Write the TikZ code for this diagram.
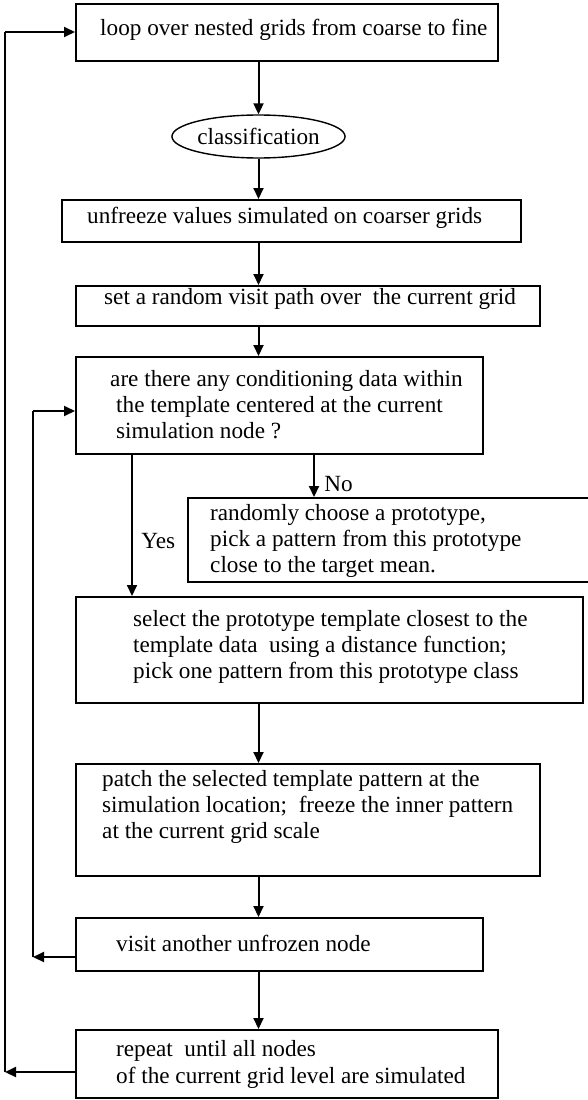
\documentclass[tikz,border=0pt]{standalone}
\usepackage{fontspec}
\setmainfont{Liberation Serif}
\usetikzlibrary{arrows.meta,positioning,shapes.geometric}

\tikzset{
  stepbox/.style={draw, line width=2pt, rectangle, inner sep=0pt},
  roundbox/.style={draw, line width=1.4pt, ellipse, inner sep=0pt},
  txt/.style={align=left, inner sep=0pt, anchor=west, font=\fontsize{23.2}{26.3}\selectfont},
  flow/.style={-{Triangle[length=11pt,width=10pt]}, line width=2pt},
  back/.style={line width=1.1pt},
}

\begin{document}
\begin{tikzpicture}[x=1pt, y=-1pt]
        \useasboundingbox (0,0) rectangle (588,1100);
        % boxes
        \node[stepbox, minimum width=422, minimum height=57] (loop) at (287,32.5) {};
        \node[roundbox, minimum width=169, minimum height=43, font=\fontsize{23.2}{26.3}\selectfont] (classif) at (258.5,136.5) {classification};
        \node[stepbox, minimum width=459, minimum height=42] (unfreeze) at (291.5,221) {};
        \node[stepbox, minimum width=464, minimum height=40] (path) at (308,306) {};
        \node[stepbox, minimum width=407, minimum height=97] (cond) at (279.5,405.5) {};
        \node[stepbox, minimum width=412, minimum height=84] (rand) at (394,540) {};
        \node[stepbox, minimum width=507, minimum height=106] (select) at (329.5,650) {};
        \node[stepbox, minimum width=464, minimum height=112] (patch) at (308,820) {};
        \node[stepbox, minimum width=407, minimum height=53] (visit) at (279.5,944.5) {};
        \node[stepbox, minimum width=422, minimum height=68] (repeat) at (287,1064) {};
        % texts
        \node[txt] (loop-t) at (100,30) {loop over nested grids from coarse to fine};
        \node[txt] (unfreeze-t) at (87,218) {unfreeze values simulated on coarser grids};
        \node[txt] (path-t) at (104,299) {set a random visit path over \ the current grid};
        \node[txt] (cond-t) at (110,404.5) {are there any conditioning data within\\
            \hspace*{6pt}the template centered at the current\\
            \hspace*{6pt}simulation node ?};
        \node[txt] (rand-t) at (210,541) {randomly choose a prototype,\\
            pick a pattern from this prototype\\
            close to the target mean.};
        \node[txt] (select-t) at (133,647) {select the prototype template closest to the\\
            template data \ using a distance function;\\
            pick one pattern from this prototype class};
        \node[txt] (patch-t) at (102,807) {patch the selected template pattern at the\\
            simulation location; \ freeze the inner pattern\\
            at the current grid scale};
        \node[txt] (visit-t) at (116,943) {visit another unfrozen node};
        \node[txt] (repeat-t) at (116,1064.5) {repeat \ until all nodes\\
            of the current grid level are simulated};
        % main flow
        \draw[flow] (loop.south -| classif.north) -- (classif.north);
        \draw[flow] (classif.south) -- (classif.south |- unfreeze.north);
        \draw[flow] (unfreeze.south -| classif.south) -- (classif.south |- path.north);
        \draw[flow] (path.south -| classif.south) -- (classif.south |- cond.north);
        \draw[flow] ([xshift=34.5pt]cond.south) -- ([xshift=34.5pt]cond.south |- rand.north)
            node[pos=0.7, right=6pt, font=\fontsize{23.2}{26.3}\selectfont] (no) {No};
        \draw[flow] ([xshift=-147.5pt]cond.south) -- ([xshift=-147.5pt]cond.south |- select.north)
            node[pos=0.61, right=5pt, font=\fontsize{23.2}{26.3}\selectfont] (yes) {Yes};
        \draw[flow] (select.south -| classif.south) -- (classif.south |- patch.north);
        \draw[flow] (patch.south -| classif.south) -- (classif.south |- visit.north);
        \draw[flow] (visit.south -| classif.south) -- (classif.south |- repeat.north);
        % loops back
        \coordinate (inner-low) at (33,957);
        \coordinate (inner-high) at (33,411);
        \coordinate (outer-low) at (5,1072);
        \coordinate (outer-high) at (5,32);
        \draw[flow] (visit.west |- inner-low) -- (inner-low);
        \draw[back] (inner-low) -- (inner-high);
        \draw[flow] (inner-high) -- (inner-high -| cond.west);
        \draw[flow] (repeat.west |- outer-low) -- (outer-low);
        \draw[back] (outer-low) -- (outer-high);
        \draw[flow] (outer-high) -- (outer-high -| loop.west);
    \end{tikzpicture}
\end{document}
